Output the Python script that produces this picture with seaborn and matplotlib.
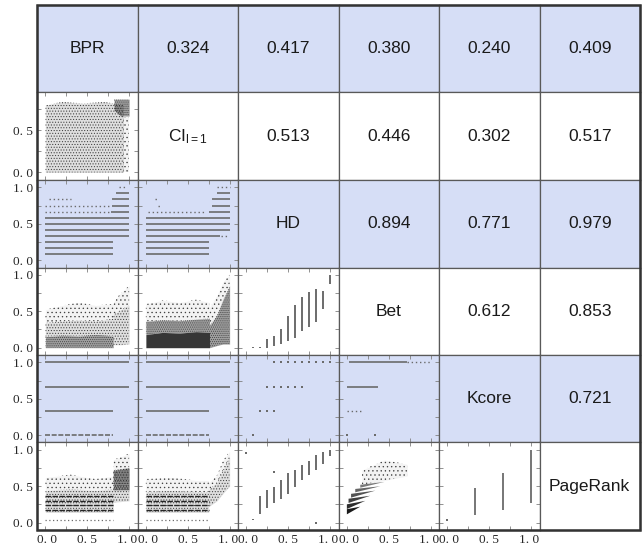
import numpy as np
import pandas as pd
import seaborn as sns
import matplotlib.pyplot as plt
from matplotlib.ticker import MultipleLocator, FuncFormatter
from matplotlib.patches import Rectangle
from matplotlib.transforms import ScaledTranslation

nan = np.nan

# ---- variable names and correlation values (upper triangle, row by row) ----
NAMES = ["BPR", "CI$_{\\mathrm{l=1}}$", "HD", "Bet", "Kcore", "PageRank"]
CORR_BPR = [0.324, 0.417, 0.380, 0.240, 0.409]
CORR_CI = [0.513, 0.446, 0.302, 0.517]
CORR_HD = [0.894, 0.771, 0.979]
CORR_BET = [0.612, 0.853]
CORR_KCORE = [0.721]

# ---- discrete value levels ----
HD_LEVELS = [0.083, 0.167, 0.25, 0.333, 0.417, 0.5, 0.583, 0.667, 0.75, 0.833, 0.917, 1.0]
KCORE_LEVELS = [0.0, 0.333, 0.667, 1.0]

# ---- HD vs BPR / CI: horizontal bands per HD level (dense part, sparse part) ----
HD_BPR_LO = [0.0, 0.0, 0.0, 0.0, 0.0, 0.0, 0.0, 0.78, 0.80, 0.80, 0.84, nan]
HD_BPR_HI = [0.81, 0.81, 0.81, 1.0, 1.0, 1.0, 1.0, 1.0, 1.0, 1.0, 1.0, nan]
HD_BPR_SP_LO = [nan, nan, nan, nan, nan, nan, nan, 0.0, 0.0, 0.04, nan, 0.88]
HD_BPR_SP_HI = [nan, nan, nan, nan, nan, nan, nan, 0.78, 0.78, 0.30, nan, 0.96]
HD_CI_LO = [0.0, 0.0, 0.0, 0.0, 0.0, 0.0, 0.0, 0.75, 0.79, 0.79, 0.85, nan]
HD_CI_HI = [0.75, 0.75, 0.75, 0.89, 1.0, 1.0, 1.0, 1.0, 1.0, 1.0, 1.0, nan]
HD_CI_SP_LO = [nan, nan, nan, 0.90, nan, nan, nan, 0.03, 0.15, 0.11, nan, 0.85]
HD_CI_SP_HI = [nan, nan, nan, 0.97, nan, nan, nan, 0.69, 0.19, 0.15, nan, 1.0]

# ---- Kcore vs BPR / CI / Bet: horizontal bands per Kcore level ----
KC_BPR_LO = [0.0, 0.0, 0.0, 0.0]
KC_BPR_HI = [0.81, 0.81, 1.0, 1.0]
KC_CI_LO = [0.0, 0.0, 0.0, 0.0]
KC_CI_HI = [0.75, 0.75, 1.0, 1.0]
KC_BET_LO = [nan, nan, 0.0, 0.03]
KC_BET_HI = [nan, nan, 0.37, 0.72]
KC_BET_SP_LO = [nan, 0.0, nan, 0.72]
KC_BET_SP_HI = [nan, 0.18, nan, 1.0]
KC_BET_DOT_X = [0.0, 0.34]
KC_BET_DOT_Y = [0.0, 0.0]

# ---- Kcore vs HD: isolated points ----
KC_HD_X = [0.333, 0.417, 0.5, 0.583, 0.667, 0.75, 0.833, 0.917, 1.0,
           0.25, 0.333, 0.417, 0.5, 0.583, 0.667, 0.167, 0.25, 0.333, 0.083]
KC_HD_Y = [1.0] * 9 + [0.667] * 6 + [0.333] * 3 + [0.0]

# ---- Bet vs HD: vertical streaks at HD levels ----
BET_HD_X = [0.083, 0.167, 0.25, 0.333, 0.417, 0.5, 0.583, 0.667, 0.75, 0.833, 0.917, 1.0]
BET_HD_LO = [0.0, 0.0, 0.0, 0.02, 0.05, 0.09, 0.14, 0.23, 0.28, 0.35, 0.53, 0.88]
BET_HD_HI = [0.01, 0.01, 0.12, 0.16, 0.25, 0.44, 0.58, 0.69, 0.76, 0.81, 0.78, 1.0]

# ---- PageRank vs HD: vertical streaks ----
PR_HD_X = [0.083, 0.167, 0.25, 0.333, 0.417, 0.5, 0.583, 0.667, 0.75, 0.833, 0.917, 1.0]
PR_HD_LO = [0.04, 0.12, 0.20, 0.27, 0.33, 0.40, 0.49, 0.59, 0.65, 0.72, 0.81, 0.91]
PR_HD_HI = [0.05, 0.36, 0.45, 0.49, 0.59, 0.68, 0.72, 0.79, 0.85, 0.93, 0.97, 1.0]
PR_HD_DOT_X = [0.0, 0.333, 0.833]
PR_HD_DOT_Y = [0.96, 0.70, 0.0]

# ---- PageRank vs Kcore: vertical streaks ----
PR_KC_X = [0.333, 0.667, 1.0]
PR_KC_LO = [0.105, 0.17, 0.27]
PR_KC_HI = [0.47, 0.68, 1.0]
PR_KC_DOT_X = [0.0]
PR_KC_DOT_Y = [0.04]

# ---- point clouds: (x, lower, upper) envelopes by density ----
CI_BPR_X = [0.0, 0.2, 0.45, 0.7, 0.93]
CI_BPR_HI = [0.80, 0.84, 0.82, 0.84, 0.80]
CI_BPR_EDGE_X, CI_BPR_EDGE_HI = [0.93, 1.0], [0.66, 0.66]
CI_BPR_CORNER_X, CI_BPR_CORNER_LO, CI_BPR_CORNER_HI = [0.82, 0.9, 1.0], [0.74, 0.67, 0.67], [0.87, 0.87, 0.87]

BET_BPR_X = [0.0, 0.2, 0.4, 0.6, 0.81]
BET_BPR_BASE = [0.15, 0.17, 0.16, 0.18, 0.16]
BET_BPR_MID = [0.34, 0.36, 0.38, 0.36, 0.40]
BET_BPR_TOP = [0.52, 0.58, 0.62, 0.58, 0.60]
BET_BPR_R_X = [0.81, 0.9, 1.0]
BET_BPR_R_LO = [0.04, 0.04, 0.05]
BET_BPR_R_MID = [0.45, 0.52, 0.58]
BET_BPR_R_TOP = [0.62, 0.75, 0.85]

BET_CI_X = [0.0, 0.2, 0.4, 0.6, 0.76]
BET_CI_BASE = [0.18, 0.21, 0.20, 0.22, 0.21]
BET_CI_MID = [0.36, 0.38, 0.37, 0.39, 0.40]
BET_CI_TOP = [0.60, 0.65, 0.62, 0.66, 0.62]
BET_CI_R_X = [0.76, 0.85, 0.92, 1.0]
BET_CI_R_LO = [0.0, 0.03, 0.05, 0.05]
BET_CI_R_MID = [0.30, 0.45, 0.65, 0.85]
BET_CI_R_TOP = [0.55, 0.72, 0.90, 1.0]

PR_ROWS = [0.18, 0.24, 0.30, 0.36]
PR_BOTTOM_ROW = 0.04
PR_BPR_X = [0.0, 0.3, 0.6, 0.81]
PR_BPR_LO, PR_BPR_MID, PR_BPR_TOP = [0.14] * 4, [0.44, 0.46, 0.44, 0.46], [0.62, 0.66, 0.60, 0.64]
PR_BPR_R_X = [0.81, 1.0]
PR_BPR_R_LO, PR_BPR_R_D1, PR_BPR_R_D2, PR_BPR_R_TOP = [0.28, 0.3], [0.45, 0.45], [0.72, 0.75], [0.86, 0.95]
PR_CI_X = [0.0, 0.3, 0.6, 0.75]
PR_CI_LO, PR_CI_MID, PR_CI_TOP = [0.14] * 4, [0.42, 0.44, 0.42, 0.42], [0.60, 0.62, 0.58, 0.58]
PR_CI_R_X = [0.75, 0.85, 0.92, 1.0]
PR_CI_R_LO = [0.22, 0.30, 0.40, 0.50]
PR_CI_R_MID = [0.45, 0.55, 0.72, 0.90]
PR_CI_R_TOP = [0.55, 0.65, 0.85, 0.98]

# PageRank vs Bet: fan arms (thick left end -> thin right tip) and sparse cloud
FAN_X0 = [0.0, 0.0, 0.02, 0.05, 0.10, 0.16]
FAN_Y0 = [0.15, 0.22, 0.30, 0.37, 0.44, 0.50]
FAN_X1 = [0.16, 0.22, 0.28, 0.34, 0.40, 0.45]
FAN_Y1 = [0.22, 0.30, 0.37, 0.44, 0.50, 0.56]
FAN_SP_X = [0.18, 0.45, 0.72]
FAN_SP_LO = [0.52, 0.58, 0.64]
FAN_SP_HI = [0.72, 0.86, 0.80]

# ---- style ----
sns.set_style("ticks")
plt.rcParams["font.family"] = ["Liberation Sans", "DejaVu Sans"]
plt.rcParams["mathtext.fontset"] = "custom"
plt.rcParams["mathtext.rm"] = "Liberation Sans"
plt.rcParams["mathtext.it"] = "Liberation Sans:italic"
plt.rcParams["hatch.linewidth"] = 0.45

BLUE = "#d6def6"
INK = "0.25"
LINE = "0.42"
# density -> (background tone alpha, hatch)
DENS = {"sparse": (0.05, "...."), "medium": (0.14, "......"),
        "dense": (0.42, "........"), "solid": (0.88, None)}

L, R, T, B = 37 / 644, 640 / 644, 1 - 5 / 550, 1 - 530 / 550
fig, axes = plt.subplots(6, 6, figsize=(6.44, 5.5), dpi=100)
fig.subplots_adjust(left=L, right=R, top=T, bottom=B, wspace=0, hspace=0)

row_ylim = [(-0.1, 1.1), (-0.09, 0.95), (-0.1, 1.1), (-0.1, 1.1), (-0.1, 1.1), (-0.1, 1.1)]
fmt = FuncFormatter(lambda v, p: f"{v:.1f}".replace(".", ". "))


def cloud(ax, xs, lo, hi, kind):
    alpha, hatch = DENS[kind]
    ax.fill_between(xs, lo, hi, color="0.1", alpha=alpha, lw=0)
    if hatch:
        ax.fill_between(xs, lo, hi, facecolor="none", edgecolor=INK, hatch=hatch, lw=0)


def bands(ax, levels, lo, hi, style="-", lw=1.2, color=LINE):
    for y, a, b in zip(levels, lo, hi):
        if not np.isnan(a):
            ax.hlines(y, a, b, colors=color, linestyles=style, lw=lw)


def streaks(ax, xs, lo, hi, lw=1.4, color=LINE):
    ax.vlines(xs, lo, hi, colors=color, lw=lw)


def dots(ax, xs, ys):
    sns.scatterplot(x=xs, y=ys, ax=ax, s=4, marker="s", color=LINE,
                    linewidth=0, legend=False)


corr_rows = [CORR_BPR, CORR_CI, CORR_HD, CORR_BET, CORR_KCORE]

for i in range(6):
    for j in range(6):
        ax = axes[i, j]
        ax.set_xlim(-0.1, 1.1)
        ax.set_ylim(*row_ylim[i])
        if i % 2 == 0:
            ax.set_facecolor(BLUE)
        for s in ax.spines.values():
            s.set_color("0.35")
            s.set_linewidth(0.9)
        if i <= j:
            ax.set_xticks([])
            ax.set_yticks([])
            txt = NAMES[i] if i == j else f"{corr_rows[i][j - i - 1]:.3f}"
            ax.text(0.5, 0.5, txt, transform=ax.transAxes, ha="center", va="center",
                    fontsize=12.5, color="0.1")
            continue
        ax.set_xticks([0.0, 0.5, 1.0])
        ax.set_yticks([0.0, 0.5, 1.0] if row_ylim[i][1] > 1 else [0.0, 0.5])
        ax.xaxis.set_minor_locator(MultipleLocator(0.25))
        ax.yaxis.set_minor_locator(MultipleLocator(0.25))
        ax.xaxis.set_major_formatter(fmt)
        ax.yaxis.set_major_formatter(fmt)
        ax.tick_params(which="both", direction="in", top=True, right=True,
                       length=3, width=0.6, color="0.5",
                       labelleft=(j == 0), labelbottom=(i == 5),
                       labelsize=9.5, pad=3, labelfontfamily="Liberation Serif")
        if i == 5:
            labs = ax.get_xticklabels()
            labs[0].set_transform(labs[0].get_transform()
                                  + ScaledTranslation(2 / 100, 0, fig.dpi_scale_trans))
            labs[2].set_transform(labs[2].get_transform()
                                  + ScaledTranslation(-2 / 100, 0, fig.dpi_scale_trans))

# CI vs BPR
ax = axes[1, 0]
cloud(ax, CI_BPR_X, [0.0] * 5, CI_BPR_HI, "medium")
cloud(ax, CI_BPR_EDGE_X, [0.0, 0.0], CI_BPR_EDGE_HI, "sparse")
cloud(ax, CI_BPR_CORNER_X, CI_BPR_CORNER_LO, CI_BPR_CORNER_HI, "dense")

# HD rows
for ax, lo, hi, slo, shi in [(axes[2, 0], HD_BPR_LO, HD_BPR_HI, HD_BPR_SP_LO, HD_BPR_SP_HI),
                             (axes[2, 1], HD_CI_LO, HD_CI_HI, HD_CI_SP_LO, HD_CI_SP_HI)]:
    bands(ax, HD_LEVELS, lo, hi)
    bands(ax, HD_LEVELS, slo, shi, style=(0, (1, 2)), lw=1.0)

# Bet rows
ax = axes[3, 0]
cloud(ax, BET_BPR_X, [0.0] * 5, BET_BPR_BASE, "dense")
cloud(ax, BET_BPR_X, BET_BPR_BASE, BET_BPR_MID, "medium")
cloud(ax, BET_BPR_X, BET_BPR_MID, BET_BPR_TOP, "sparse")
cloud(ax, BET_BPR_R_X, BET_BPR_R_LO, BET_BPR_R_MID, "medium")
cloud(ax, BET_BPR_R_X, BET_BPR_R_MID, BET_BPR_R_TOP, "sparse")
ax = axes[3, 1]
cloud(ax, BET_CI_X, [0.0] * 5, BET_CI_BASE, "solid")
cloud(ax, BET_CI_X, BET_CI_BASE, BET_CI_MID, "dense")
cloud(ax, BET_CI_X, BET_CI_MID, BET_CI_TOP, "sparse")
cloud(ax, BET_CI_R_X, BET_CI_R_LO, BET_CI_R_MID, "dense")
cloud(ax, BET_CI_R_X, BET_CI_R_MID, BET_CI_R_TOP, "sparse")
streaks(axes[3, 2], BET_HD_X, BET_HD_LO, BET_HD_HI)

# Kcore rows
bands(axes[4, 0], KCORE_LEVELS[1:], KC_BPR_LO[1:], KC_BPR_HI[1:])
bands(axes[4, 0], KCORE_LEVELS[:1], KC_BPR_LO[:1], KC_BPR_HI[:1], style=(0, (3, 1)))
bands(axes[4, 1], KCORE_LEVELS[1:], KC_CI_LO[1:], KC_CI_HI[1:])
bands(axes[4, 1], KCORE_LEVELS[:1], KC_CI_LO[:1], KC_CI_HI[:1], style=(0, (3, 1)))
dots(axes[4, 2], KC_HD_X, KC_HD_Y)
bands(axes[4, 3], KCORE_LEVELS, KC_BET_LO, KC_BET_HI)
bands(axes[4, 3], KCORE_LEVELS, KC_BET_SP_LO, KC_BET_SP_HI, style=(0, (1, 2)), lw=1.0)
dots(axes[4, 3], KC_BET_DOT_X, KC_BET_DOT_Y)

# PageRank row
for ax, xs, lo, mid, top, rx, rlo, rmid, rtop in [
        (axes[5, 0], PR_BPR_X, PR_BPR_LO, PR_BPR_MID, PR_BPR_TOP,
         PR_BPR_R_X, PR_BPR_R_LO, PR_BPR_R_D2, PR_BPR_R_TOP),
        (axes[5, 1], PR_CI_X, PR_CI_LO, PR_CI_MID, PR_CI_TOP,
         PR_CI_R_X, PR_CI_R_LO, PR_CI_R_MID, PR_CI_R_TOP)]:
    cloud(ax, xs, lo, mid, "medium")
    cloud(ax, xs, mid, top, "sparse")
    ax.hlines(PR_ROWS, xs[0], xs[-1], colors="0.15", linestyles=(0, (4, 1)), lw=1.0)
    ax.hlines(PR_BOTTOM_ROW, xs[0], xs[-1], colors=LINE, linestyles=(0, (1, 2)), lw=0.9)
    cloud(ax, rx, rlo, rmid, "medium")
    cloud(ax, rx, rmid, rtop, "sparse")
cloud(axes[5, 0], PR_BPR_R_X, PR_BPR_R_D1, PR_BPR_R_D2, "dense")

ax = axes[5, 2]
streaks(ax, PR_HD_X, PR_HD_LO, PR_HD_HI)
dots(ax, PR_HD_DOT_X, PR_HD_DOT_Y)

ax = axes[5, 3]
cloud(ax, FAN_SP_X, FAN_SP_LO, FAN_SP_HI, "sparse")
for k, (x0, y0, x1, y1) in enumerate(zip(FAN_X0, FAN_Y0, FAN_X1, FAN_Y1)):
    half = 0.035 - 0.003 * k
    ax.fill([x0, x0, x1], [y0 - half, y0 + half, y1], color="0.05",
            alpha=0.95 - 0.08 * k, lw=0)

streaks(axes[5, 4], PR_KC_X, PR_KC_LO, PR_KC_HI, lw=1.3)
dots(axes[5, 4], PR_KC_DOT_X, PR_KC_DOT_Y)

fig.add_artist(Rectangle((L, B), R - L, T - B, transform=fig.transFigure,
                         fill=False, lw=1.8, ec="0.2"))

plt.savefig("out.png", dpi=100)
plt.close()
